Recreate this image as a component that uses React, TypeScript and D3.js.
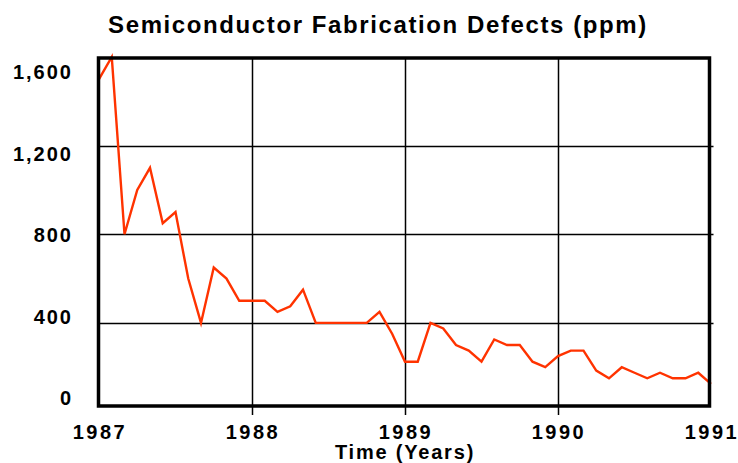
import React, { useEffect, useRef } from 'react';
import * as d3 from 'd3';

// monthly defect counts, Jan 1987 .. Jan 1991
const startYear = 1987;
const defects = [
  1500, 1600, 800, 1000, 1100, 850, 900, 600, 400, 650, 600, 500,
  500, 500, 450, 475, 550, 400, 400, 400, 400, 400, 450, 350,
  225, 225, 400, 375, 300, 275, 225, 325, 300, 300, 225, 200,
  250, 275, 275, 185, 150, 200, 175, 150, 175, 150, 150, 175,
  125,
];
const yearTicks = [1987, 1988, 1989, 1990, 1991];
const defectTicks = [0, 400, 800, 1200, 1600];

const W = 738;
const H = 463;
const left = 98.5;
const right = 709.5;
const top = 58;
const bottom = 406;

export default function App() {
  const ref = useRef<SVGSVGElement>(null);

  useEffect(() => {
    const svg = d3.select(ref.current);
    svg.selectAll('*').remove();

    const x = d3.scaleLinear().domain([1987, 1991]).range([99, 711]);
    const y = d3.scaleLinear().domain([25, 1600]).range([bottom, 57]);
    // the old package put its labels a bit off the grid
    const yLabel = d3.scaleLinear().domain([0, 1600]).range([398, 72]);

    const font = "'Liberation Sans', Arial, sans-serif";

    // grid
    svg.append('g')
      .selectAll('line')
      .data(defectTicks.filter(d => y(d) > top + 2 && y(d) < bottom - 2))
      .enter().append('line')
      .attr('x1', left).attr('x2', right + 4)
      .attr('y1', d => Math.round(y(d)) + 0.5).attr('y2', d => Math.round(y(d)) + 0.5)
      .attr('stroke', '#000').attr('stroke-width', 1.5);

    svg.append('g')
      .selectAll('line')
      .data(yearTicks.slice(1, -1))
      .enter().append('line')
      .attr('x1', d => Math.round(x(d)) + 0.5).attr('x2', d => Math.round(x(d)) + 0.5)
      .attr('y1', top).attr('y2', bottom + 9)
      .attr('stroke', '#000').attr('stroke-width', 1.5);

    // data line
    const line = d3.line<number>()
      .x((d, i) => x(startYear + i / 12))
      .y(d => y(d));

    svg.append('path')
      .datum(defects)
      .attr('d', line)
      .attr('fill', 'none')
      .attr('stroke', '#ff3300')
      .attr('stroke-width', 2.4)
      .attr('stroke-linejoin', 'miter');

    // frame
    svg.append('rect')
      .attr('x', left).attr('y', top)
      .attr('width', right - left).attr('height', bottom - top)
      .attr('fill', 'none').attr('stroke', '#000').attr('stroke-width', 3.5);

    // y labels
    svg.append('g')
      .selectAll('text')
      .data(defectTicks)
      .enter().append('text')
      .attr('x', 73)
      .attr('y', d => yLabel(d))
      .attr('dy', '0.36em')
      .attr('text-anchor', 'end')
      .attr('font-family', font)
      .attr('font-weight', 'bold')
      .attr('font-size', 20)
      .attr('letter-spacing', 2)
      .text(d => d3.format(',')(d));

    // x labels
    svg.append('g')
      .selectAll('text')
      .data(yearTicks)
      .enter().append('text')
      .attr('x', d => x(d) + 1)
      .attr('y', 439)
      .attr('text-anchor', 'middle')
      .attr('font-family', font)
      .attr('font-weight', 'bold')
      .attr('font-size', 20)
      .attr('letter-spacing', 2.5)
      .text(d => String(d));

    svg.append('text')
      .attr('x', 405)
      .attr('y', 459)
      .attr('text-anchor', 'middle')
      .attr('font-family', font)
      .attr('font-weight', 'bold')
      .attr('font-size', 20)
      .attr('letter-spacing', 1.8)
      .text('Time (Years)');

    svg.append('text')
      .attr('x', 378)
      .attr('y', 33)
      .attr('text-anchor', 'middle')
      .attr('font-family', font)
      .attr('font-weight', 'bold')
      .attr('font-size', 24)
      .attr('letter-spacing', 1.6)
      .text('Semiconductor Fabrication Defects (ppm)');
  }, []);

  return (
    <svg ref={ref} width={W} height={H}
      style={{ position: 'absolute', left: 0, top: 0, background: '#fff' }} />
  );
}
